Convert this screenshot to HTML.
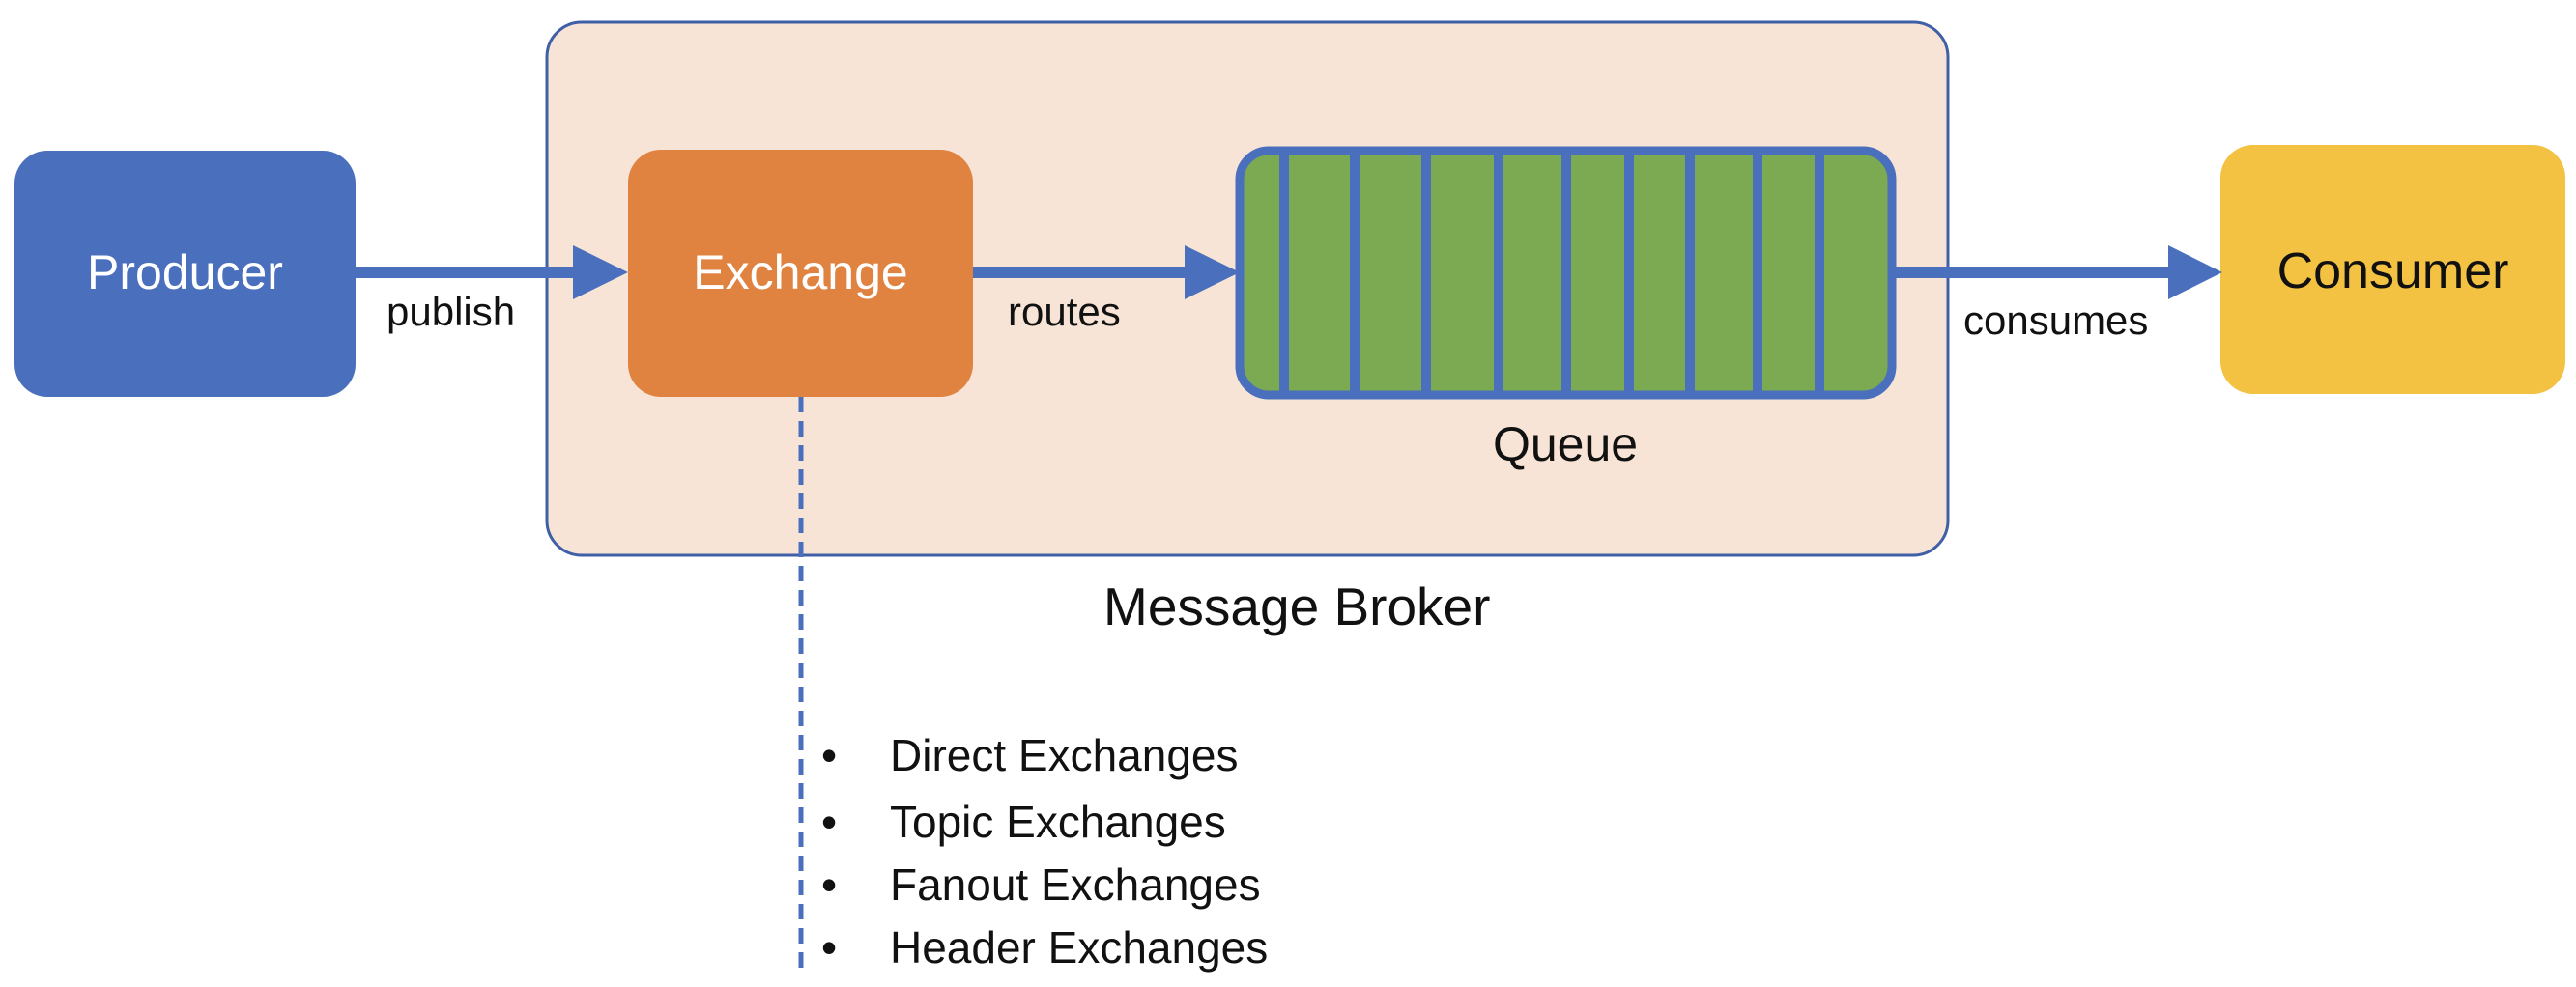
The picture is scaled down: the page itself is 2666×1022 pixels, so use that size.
<!DOCTYPE html>
<html><head><meta charset="utf-8"><style>
html,body{margin:0;padding:0;background:#fff}
body{width:2666px;height:1022px;position:relative;overflow:hidden;font-family:"Liberation Sans","DejaVu Sans",sans-serif}
.t{position:absolute;white-space:nowrap;line-height:1}
.b{position:absolute;white-space:nowrap;font-size:46px;color:#111;line-height:66px;height:66px}
</style></head><body>
<svg width="2666" height="1022" style="position:absolute;left:0;top:0">
<rect x="566" y="23" width="1450" height="552" rx="36" fill="#F7E4D6" stroke="#3F5FA6" stroke-width="3"/>
<rect x="15" y="156" width="353" height="255" rx="34" fill="#4A6FBC"/>
<rect x="650" y="155" width="357" height="256" rx="34" fill="#E08341"/>
<rect x="2298" y="150" width="357" height="258" rx="34" fill="#F4C242"/>
<rect x="1283" y="156" width="675" height="253" rx="30" fill="#7BAA52" stroke="#4A6FBC" stroke-width="9"/>
<g fill="#4A6FBC">
<rect x="1324" y="154" width="10" height="257"/>
<rect x="1397" y="154" width="10" height="257"/>
<rect x="1471" y="154" width="10" height="257"/>
<rect x="1546" y="154" width="10" height="257"/>
<rect x="1616" y="154" width="10" height="257"/>
<rect x="1681" y="154" width="10" height="257"/>
<rect x="1744" y="154" width="10" height="257"/>
<rect x="1814" y="154" width="10" height="257"/>
<rect x="1878" y="154" width="10" height="257"/>
<rect x="368" y="276" width="230" height="12"/>
<polygon points="593,254 650,282 593,310"/>
<rect x="1007" y="276" width="224" height="12"/>
<polygon points="1226,254 1283,282 1226,310"/>
<rect x="1958" y="276" width="292" height="12"/>
<polygon points="2244,254 2300,282 2244,310"/>
</g>
<line x1="829" y1="411" x2="829" y2="1006" stroke="#4A6FBC" stroke-width="5" stroke-dasharray="16,9"/>
</svg>
<div class="t" style="left:15px;width:353px;text-align:center;top:257px;font-size:50px;color:#fff">Producer</div>
<div class="t" style="left:650px;width:357px;text-align:center;top:257px;font-size:50px;color:#fff">Exchange</div>
<div class="t" style="left:2298px;width:357px;text-align:center;top:255px;font-size:52px;color:#111">Consumer</div>
<div class="t" style="left:400px;top:302px;font-size:42px;color:#111">publish</div>
<div class="t" style="left:1043px;top:302px;font-size:42px;color:#111">routes</div>
<div class="t" style="left:2032px;top:311px;font-size:42px;color:#111">consumes</div>
<div class="t" style="left:1480px;width:280px;text-align:center;top:435px;font-size:50px;color:#111">Queue</div>
<div class="t" style="left:1142px;top:601px;font-size:55px;color:#111">Message Broker</div>
<div class="b" style="left:850px;top:749px">•</div><div class="b" style="left:921px;top:749px">Direct Exchanges</div>
<div class="b" style="left:850px;top:818px">•</div><div class="b" style="left:921px;top:818px">Topic Exchanges</div>
<div class="b" style="left:850px;top:883px">•</div><div class="b" style="left:921px;top:883px">Fanout Exchanges</div>
<div class="b" style="left:850px;top:948px">•</div><div class="b" style="left:921px;top:948px">Header Exchanges</div>
</body></html>
